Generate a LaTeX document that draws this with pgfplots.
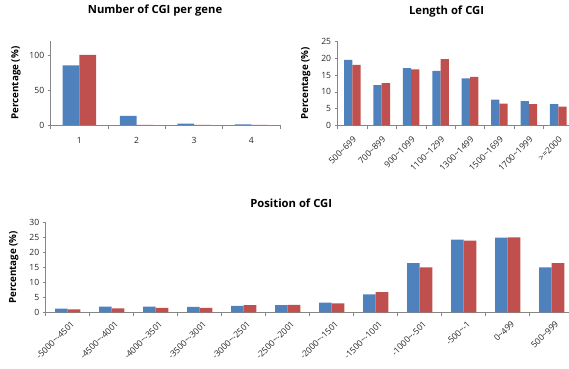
\documentclass[border=0pt]{standalone}
\usepackage{pgfplots}
\pgfplotsset{compat=1.18}
\usepackage{fontspec}
\setmainfont{Open Sans}
\definecolor{cblue}{HTML}{4F81BD}
\definecolor{cred}{HTML}{C0504D}
\definecolor{axgray}{HTML}{868686}
\newcommand{\tl}{\textasciitilde}
\pgfplotsset{
  excel/.style={
    scale only axis,
    axis x line*=bottom, axis y line*=left,
    xtick pos=left, ytick pos=left,
    axis line style={axgray, line width=0.6bp},
    ybar=0pt,
    tick align=outside,
    major tick length=3bp, minor tick length=4bp,
    major x tick style={draw=none},
    minor x tick style={axgray, line width=0.6bp},
    major y tick style={axgray, line width=0.6bp},
    ymin=0,
    tick label style={font=\fontsize{8.6}{9}\selectfont, text=black!85},
    /pgf/number format/assume math mode=true,
    ylabel={Percentage (\%)},
    ylabel style={font=\fontsize{9.8}{10}\selectfont\bfseries},
    title style={font=\fontsize{11.3}{12}\selectfont\bfseries, anchor=center},
    every axis plot/.append style={draw=none},
    clip=false,
  }
}
\begin{document}
\begin{tikzpicture}
\useasboundingbox (0,0) rectangle (569bp,369bp);
% Panel 1
\begin{axis}[excel, at={(50.7bp,244bp)}, anchor=south west,
  width=229.3bp, height=84bp, xmin=-0.5, xmax=3.5, ymax=120,
  ytick={0,50,100}, xtick={0,1,2,3}, xticklabels={1,2,3,4},
  minor xtick={-0.5,0.5,1.5,2.5,3.5}, bar width=16.7bp,
  xticklabel style={yshift=-6bp},
  ylabel shift=2bp,
  title={Number of CGI per gene},
  title style={at={(axis description cs:0.455,1.286)}}]
\addplot[fill=cblue] coordinates {(0,85.3)(1,13)(2,2)(3,0.8)};
\addplot[fill=cred] coordinates {(0,100)(1,0)(2,0)(3,0)};
\end{axis}
% Panel 2
\begin{axis}[excel, at={(337.6bp,243.7bp)}, anchor=south west,
  width=235.4bp, height=83.6bp, xmin=-0.5, xmax=7.5, ymax=25,
  ytick={0,5,10,15,20,25}, xtick={0,...,7},
  xticklabels={500\tl699,700\tl899,900\tl1099,1100\tl1299,1300\tl1499,1500\tl1699,1700\tl1999,>=2000},
  xticklabel style={rotate=45, anchor=north east, xshift=-2bp, yshift=-2bp},
  minor xtick={-0.5,0.5,...,7.5}, bar width=8.3bp,
  ylabel shift=4bp,
  title={Length of CGI},
  title style={at={(axis description cs:0.463,1.295)}}]
\addplot[fill=cblue] coordinates {(0,19.6)(1,12.0)(2,17.1)(3,16.3)(4,14.0)(5,7.7)(6,7.2)(7,6.3)};
\addplot[fill=cred] coordinates {(0,18.1)(1,12.6)(2,16.7)(3,19.8)(4,14.5)(5,6.5)(6,6.3)(7,5.6)};
\end{axis}
% Panel 3
\begin{axis}[excel, at={(45.7bp,56.7bp)}, anchor=south west,
  width=528bp, height=90bp, xmin=-0.5, xmax=11.5, ymax=30,
  ytick={0,5,10,15,20,25,30}, xtick={0,...,11},
  xticklabels={-5000\tl-4501,-4500\tl-4001,-4000\tl-3501,-3500\tl-3001,-3000\tl-2501,-2500\tl-2001,-2000\tl-1501,-1500\tl-1001,-1000\tl-501,-500\tl-1,0\tl499,500\tl999},
  xticklabel style={rotate=45, anchor=north east, xshift=2bp, yshift=-2bp},
  minor xtick={-0.5,0.5,...,11.5}, bar width=12.6bp,
  ylabel shift=4bp,
  title={Position of CGI},
  title style={at={(axis description cs:0.465,1.144)}}]
\addplot[fill=cblue] coordinates {(0,1.2)(1,1.9)(2,1.9)(3,1.8)(4,2.1)(5,2.4)(6,3.2)(7,6.0)(8,16.4)(9,24.2)(10,24.9)(11,15.0)};
\addplot[fill=cred] coordinates {(0,1.0)(1,1.3)(2,1.5)(3,1.5)(4,2.4)(5,2.5)(6,3.0)(7,6.7)(8,15.0)(9,23.9)(10,25.0)(11,16.4)};
\end{axis}
\end{tikzpicture}
\end{document}
